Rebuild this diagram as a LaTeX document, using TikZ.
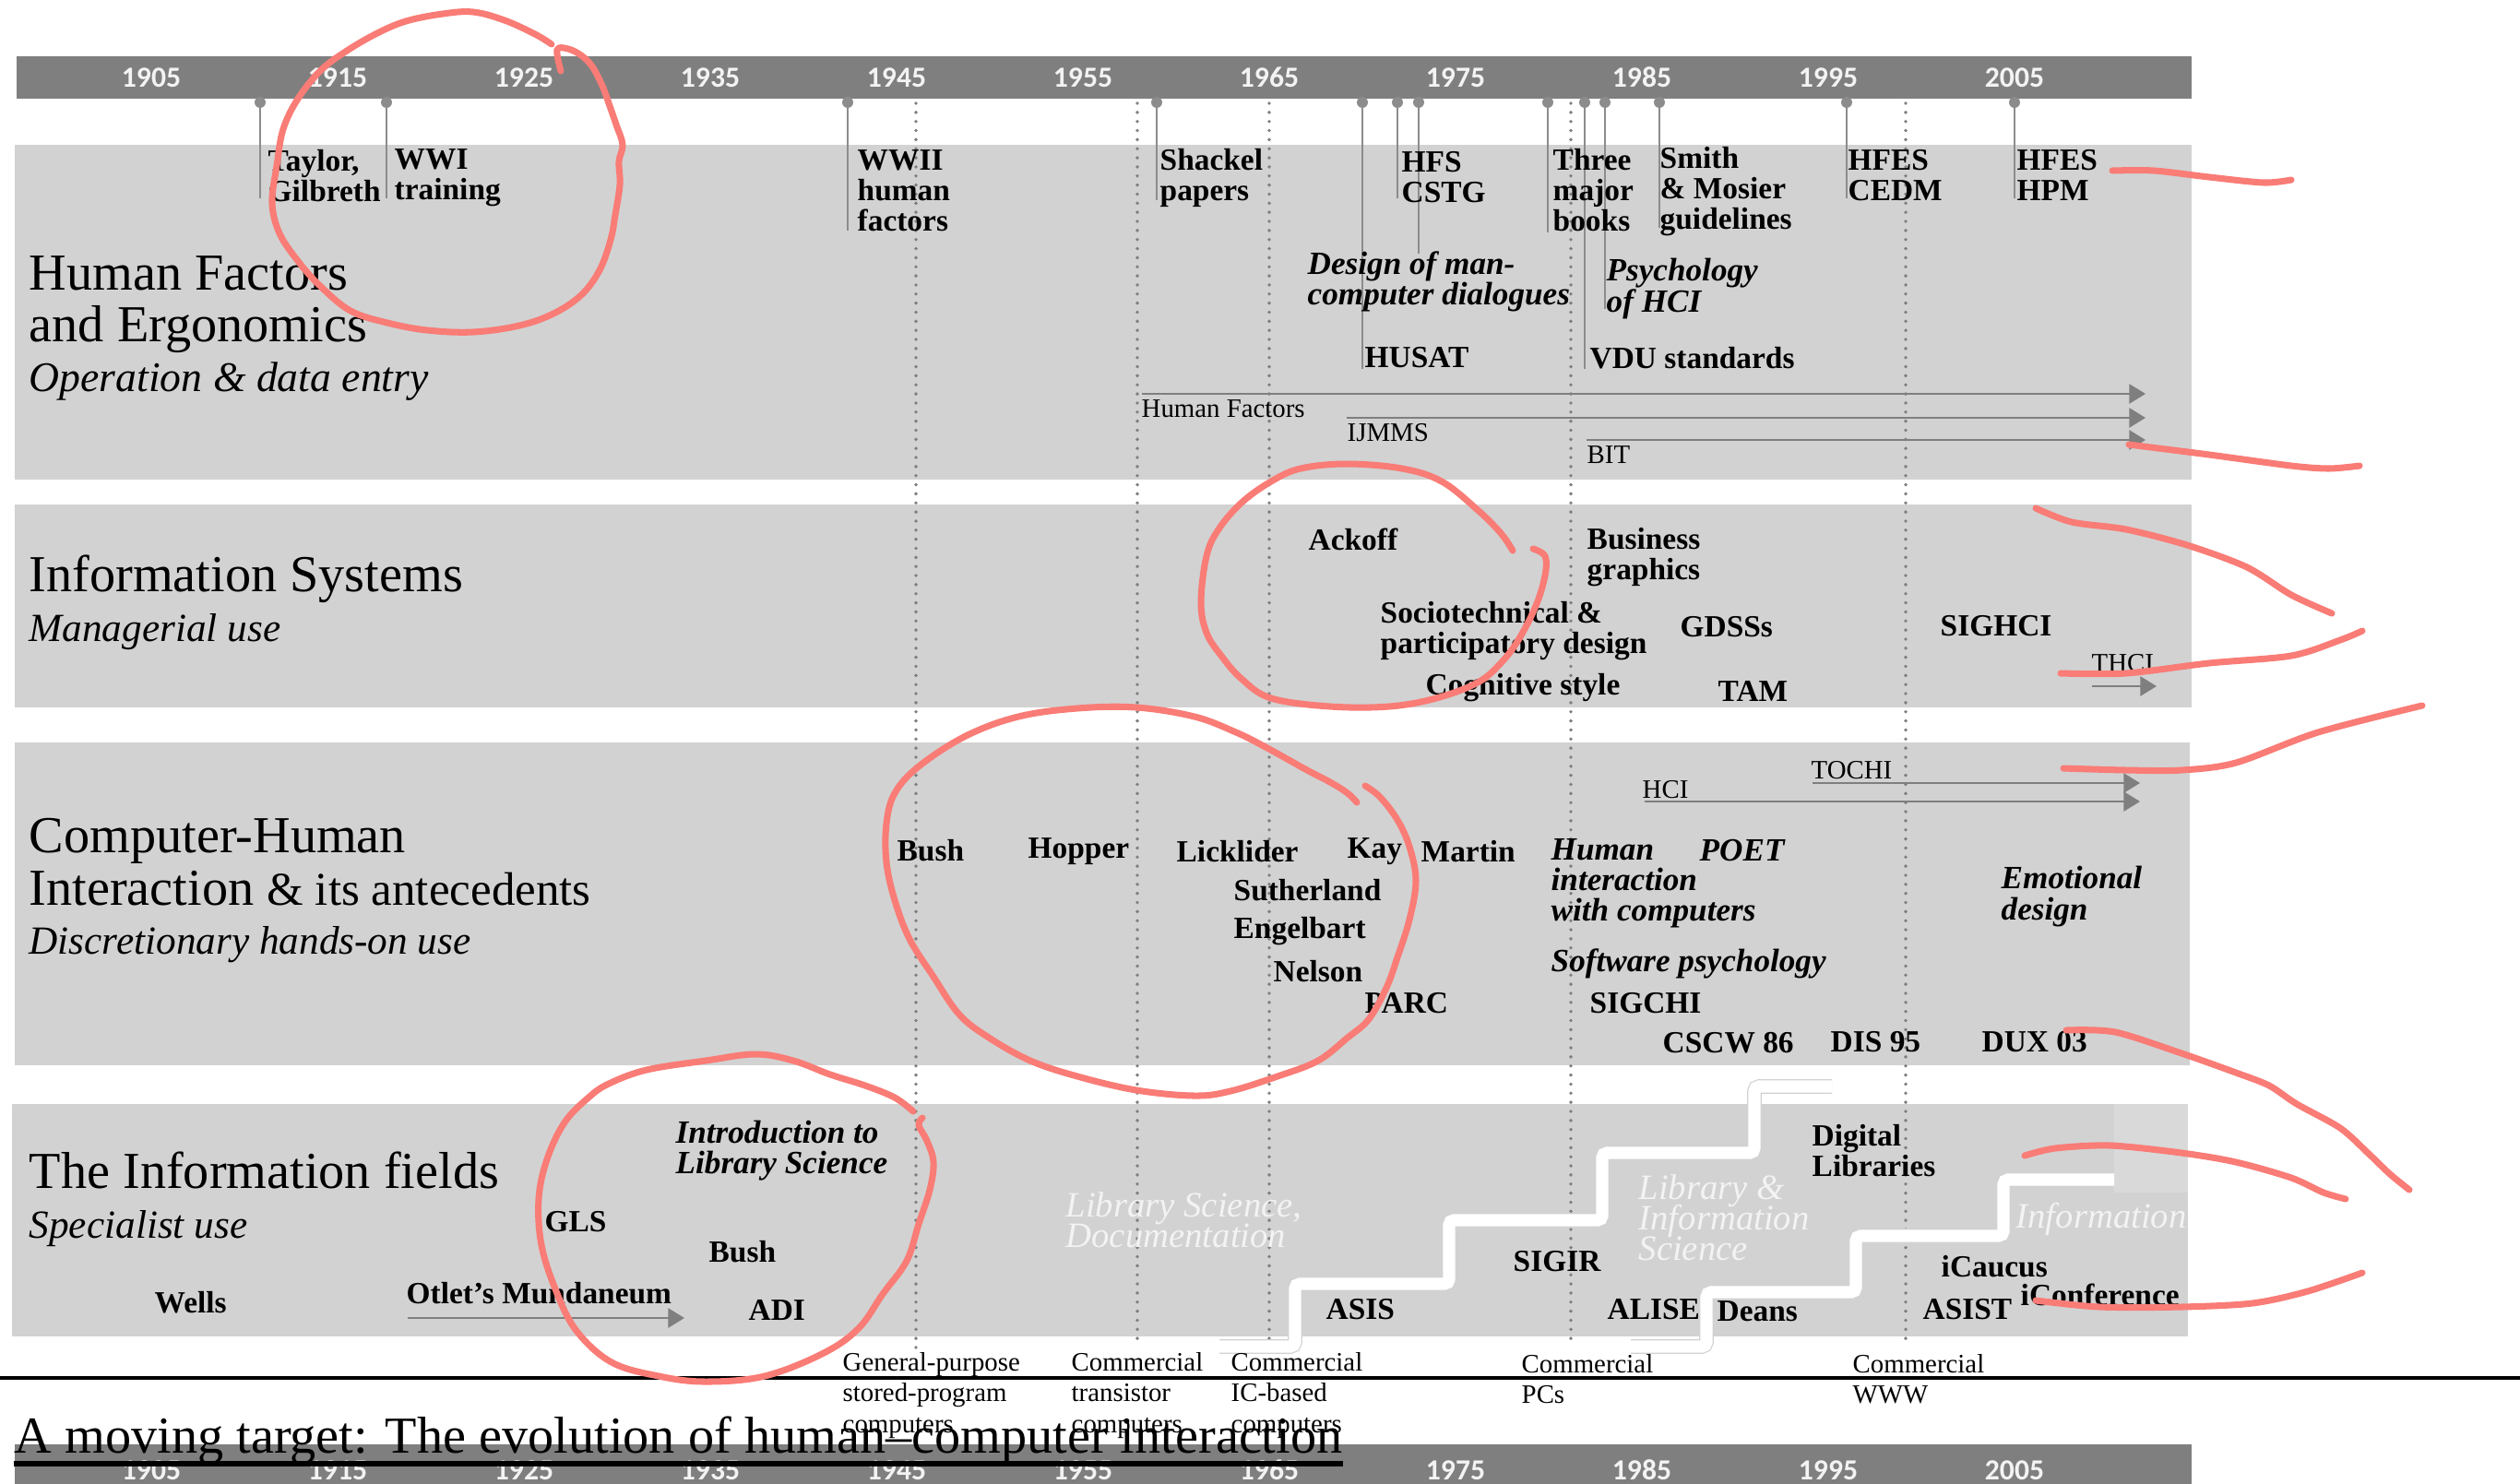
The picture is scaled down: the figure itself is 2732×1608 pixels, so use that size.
\documentclass[tikz,border=0pt]{standalone}
\usepackage{fontspec}
\setmainfont{Liberation Serif}
\newfontfamily\yearfont{Carlito}
\usetikzlibrary{arrows.meta}
\definecolor{bandgray}{RGB}{210,210,210}
\definecolor{bandlight}{RGB}{217,217,217}
\definecolor{bargray}{RGB}{127,127,127}
\definecolor{pingray}{RGB}{140,140,140}
\definecolor{redmark}{RGB}{249,124,118}
\definecolor{paletext}{RGB}{243,243,243}
\newcommand\tightlines{\lineskiplimit-5pt\relax}

\begin{document}
\begin{tikzpicture}[x=0.01cm,y=-0.01cm,
    yearlbl/.style={text=paletext,inner sep=0,font=\yearfont\bfseries\fontsize{9}{9}\selectfont},
    ev/.style={anchor=west,inner sep=0,align=left,font=\bfseries\fontsize{9.5}{9.4}\selectfont\tightlines},
    evit/.style={ev,font=\bfseries\itshape\fontsize{10}{9.4}\selectfont\tightlines},
    jnl/.style={anchor=west,inner sep=0,align=left,font=\fontsize{8.2}{9.4}\selectfont},
    era/.style={anchor=west,inner sep=0,align=left,text=paletext,font=\itshape\fontsize{11}{9.4}\selectfont\tightlines},
    ttl/.style={anchor=base west,inner sep=0,font=\fontsize{16}{16}\selectfont},
    subttl/.style={anchor=base west,inner sep=0,font=\itshape\fontsize{12.3}{13}\selectfont},
    pinhead/.style={circle,fill=pingray,inner sep=0,minimum size=3.4pt},
    stem/.style={draw=pingray,line width=0.45pt},
    eraline/.style={draw=bargray,line width=1.1pt,line cap=round,dash pattern=on 0pt off 2.8pt},
    tl/.style={draw=bargray,line width=0.6pt,-{Triangle[length=5pt,width=6pt]}},
    stair/.style={draw=white,line width=3.8pt,rounded corners=1.5pt,preaction={draw=gray!35,line width=4.5pt}},
    scribble/.style={draw=redmark,line width=2pt,line cap=round,line join=round}]
  \useasboundingbox (0,0) rectangle (2732,1608);

  % bands
  \fill[bandgray] (16,157) rectangle (2376,520);
  \fill[bandgray] (16,547) rectangle (2376,767);
  \fill[bandgray] (16,805) rectangle (2374,1155);
  \fill[bandgray] (13,1197) rectangle (2372,1449);
  \fill[bandlight] (2292,1197) rectangle (2372,1293);

  % eras
  \foreach \n/\dx/\dy in {gp/993/1462,ct/1233/1460,ic/1376/1452,pc/1703/1460,www/2066/1460}{
    \coordinate (era-\n-t) at (\dx,112);
    \coordinate (era-\n-b) at (\dx,\dy);
    \draw[eraline] (era-\n-t) -- (era-\n-b);
  }

  % staircases
  \draw[stair] (1322,1460) -- (1404,1460) -- (1404,1392) -- (1571,1392) -- (1571,1323)
    -- (1737,1323) -- (1737,1250) -- (1902,1250) -- (1902,1178) -- (1986,1178);
  \draw[stair] (1768,1460) -- (1850,1460) -- (1850,1401) -- (2012,1401) -- (2012,1340)
    -- (2172,1340) -- (2172,1279) -- (2292,1279);

  % top bar
  \fill[bargray] (18,61) rectangle (2376,107);
  \foreach \yr in {1905,1915,...,2005}{
    \node[yearlbl] (top\yr) at ({164+20.2*(\yr-1905)},84) {\yr};
  }
  \foreach \n/\px/\py in {taylor/282/215,wwi/419/215,wwii/919/250,shackel/1254/217,husat/1477/400,
      hfs/1515/215,dmcd/1538/275,three/1678/252,vdu/1718/400,psy/1740/335,smith/1799/247,
      cedm/2002/215,hpm/2184/215}{
    \coordinate (foot-\n) at (\px,\py);
    \draw[stem] (\px,111) -- (foot-\n);
    \node[pinhead] (pin-\n) at (\px,111) {};
  }

  % Human Factors and Ergonomics
  \node[ttl] (hf1) at (31,314) {Human Factors};
  \node[ttl] (hf2) at (31,370) {and Ergonomics};
  \node[subttl,font=\itshape\fontsize{13}{13}\selectfont] (hf3) at (31,424) {Operation \& data entry};
  \node[ev] (taylor) at (290,191) {Taylor,\\Gilbreth};
  \node[ev] (wwi) at (427,193) {WWI\\training};
  \node[ev] (wwii) at (929,207) {WWII\\human\\factors};
  \node[ev] (shackel) at (1257,193) {Shackel\\papers};
  \node[ev] (hfs) at (1519,192) {HFS\\CSTG};
  \node[ev] (three) at (1683,206) {Three\\major\\books};
  \node[ev] (smith) at (1799,208) {Smith\\\& Mosier\\guidelines};
  \node[ev] (cedm) at (2003,190) {HFES\\CEDM};
  \node[ev] (hpm) at (2186,190) {HFES\\HPM};
  \node[evit] (dmcd) at (1417,305) {Design of man-\\computer dialogues};
  \node[evit] (psy) at (1741,313) {Psychology\\of HCI};
  \node[ev] (husat) at (1479,388) {HUSAT};
  \node[ev] (vdu) at (1723,388) {VDU standards};
  \coordinate (hfj-a) at (1238,427); \coordinate (hfj-b) at (2326,427);
  \coordinate (ijmms-a) at (1460,453); \coordinate (ijmms-b) at (2326,453);
  \coordinate (bit-a) at (1720,477); \coordinate (bit-b) at (2326,477);
  \draw[tl] (hfj-a) -- (hfj-b);
  \draw[tl] (ijmms-a) -- (ijmms-b);
  \draw[tl] (bit-a) -- (bit-b);
  \node[jnl] (hfj) at (1237,443) {Human Factors};
  \node[jnl] (ijmms) at (1460,469) {IJMMS};
  \node[jnl] (bit) at (1720,493) {BIT};

  % Information Systems
  \node[ttl] (is1) at (31,641) {Information Systems};
  \node[subttl] (is2) at (31,695) {Managerial use};
  \node[ev] (ackoff) at (1418,585) {Ackoff};
  \node[ev] (socio) at (1496,684) {Sociotechnical \&\\participatory design};
  \node[ev] (cogn) at (1545,746) {Cognitive style};
  \node[ev] (busi) at (1720,604) {Business\\graphics};
  \node[ev] (gdss) at (1821,680) {GDSSs};
  \node[ev] (tam) at (1862,749) {TAM};
  \node[ev] (sighci) at (2103,679) {SIGHCI};
  \node[jnl] (thci) at (2267,719) {THCI};
  \coordinate (thci-a) at (2268,744); \coordinate (thci-b) at (2338,744);
  \draw[tl] (thci-a) -- (thci-b);

  % Computer-Human Interaction
  \node[ttl] (chi1) at (31,924) {Computer-Human};
  \node[ttl] (chi2) at (31,981) {Interaction {\fontsize{14.5}{14.5}\selectfont\& its antecedents}};
  \node[subttl] (chi3) at (31,1034) {Discretionary hands-on use};
  \node[ev] (bush) at (972,922) {Bush};
  \node[ev] (hopper) at (1114,923) {Hopper};
  \node[ev] (lick) at (1275,923) {Licklider};
  \node[ev] (kay) at (1460,923) {Kay};
  \node[ev] (martin) at (1540,923) {Martin};
  \node[ev] (suth) at (1337,965) {Sutherland};
  \node[ev] (engel) at (1337,1010) {Engelbart};
  \node[ev] (nelson) at (1380,1053) {Nelson};
  \node[ev] (parc) at (1479,1088) {PARC};
  \node[evit] (humint) at (1681,958) {Human\\interaction\\with computers};
  \node[evit] (poet) at (1842,922) {POET};
  \node[evit] (softpsy) at (1681,1045) {Software psychology};
  \node[ev] (sigchi) at (1723,1088) {SIGCHI};
  \node[ev] (cscw) at (1802,1131) {CSCW 86};
  \node[ev] (dis) at (1984,1130) {DIS 95};
  \node[ev] (dux) at (2148,1130) {DUX 03};
  \node[evit] (emo) at (2169,972) {Emotional\\design};
  \coordinate (tochi-a) at (1965,849); \coordinate (tochi-b) at (2320,849);
  \coordinate (hci-a) at (1783,869); \coordinate (hci-b) at (2320,869);
  \draw[tl] (tochi-a) -- (tochi-b);
  \draw[tl] (hci-a) -- (hci-b);
  \node[jnl] (tochi) at (1963,835) {TOCHI};
  \node[jnl] (hci) at (1780,856) {HCI};

  % The Information fields
  \node[ttl] (inf1) at (31,1288) {The Information fields};
  \node[subttl] (inf2) at (31,1342) {Specialist use};
  \node[evit] (intro) at (732,1248) {Introduction to\\Library Science};
  \node[ev] (gls) at (590,1325) {GLS};
  \node[ev] (bush2) at (768,1357) {Bush};
  \node[ev] (wells) at (167,1412) {Wells};
  \node[ev] (otlet) at (440,1402) {Otlet's Mundaneum};
  \coordinate (otlet-a) at (442,1429); \coordinate (otlet-b) at (742,1429);
  \draw[tl] (otlet-a) -- (otlet-b);
  \node[ev] (adi) at (811,1420) {ADI};
  \node[era] (libsci) at (1155,1323) {Library Science,\\Documentation};
  \node[ev] (sigir) at (1640,1368) {SIGIR};
  \node[ev] (asis) at (1437,1420) {ASIS};
  \node[ev] (alise) at (1742,1420) {ALISE};
  \node[ev] (deans) at (1861,1422) {Deans};
  \node[era] (lis) at (1776,1320) {Library \&\\Information\\Science};
  \node[ev] (diglib) at (1964,1248) {Digital\\Libraries};
  \node[era] (info) at (2185,1322) {Information};
  \node[ev] (icaucus) at (2104,1373) {iCaucus};
  \node[ev] (asist) at (2084,1420) {ASIST};
  \node[ev] (iconf) at (2190,1404) {iConference};

  % computing eras
  \node[jnl] (gp) at (913,1513) {General-purpose\\stored-program\\computers};
  \node[jnl] (ct) at (1161,1513) {Commercial\\transistor\\computers};
  \node[jnl] (ic) at (1334,1513) {Commercial\\IC-based\\computers};
  \node[jnl] (pc) at (1649,1495) {Commercial\\PCs};
  \node[jnl] (www) at (2008,1495) {Commercial\\WWW};

  \coordinate (rule-l) at (0,1494); \coordinate (rule-r) at (2732,1494);
  \draw[line width=0.9pt] (rule-l) -- (rule-r);

  % bottom bar and caption
  \fill[bargray] (16,1566) rectangle (2376,1612);
  \foreach \yr in {1905,1915,...,2005}{
    \node[yearlbl] (bot\yr) at ({164+20.2*(\yr-1905)},1594) {\yr};
  }
  \node[ttl] (title) at (15,1575) {A moving target: The evolution of human--computer interaction};
  \draw[line width=1.7pt] ([yshift=-3.3pt]title.base west) -- ([yshift=-3.3pt]title.base east);

  % marks
  \draw[scribble] plot[smooth,tension=0.6] coordinates {(608,77) (604,54) (616,53) (630,60) (642,72)
    (653,93) (660,112) (668,135) (675,157) (671,175) (672,200) (667,233) (662,260) (650,293)
    (630,320) (600,340) (563,353) (513,360) (463,358) (420,350) (380,337) (347,310) (323,283)
    (303,253) (295,220) (300,180) (307,140) (323,107) (347,77) (373,57) (407,37) (440,23)
    (480,15) (513,13) (547,22) (580,37) (598,48)};
  \draw[scribble] plot[smooth,tension=0.6] coordinates {(1640,597) (1627,578) (1602,553) (1563,522)
    (1520,508) (1460,503) (1410,508) (1378,522) (1346,545) (1321,574) (1308,603) (1302,653)
    (1308,686) (1324,711) (1346,736) (1378,757) (1442,766) (1506,766) (1557,757) (1602,740)
    (1627,719) (1646,694) (1665,657) (1675,624) (1675,603) (1662,595)};
  \draw[scribble] plot[smooth,tension=0.6] coordinates {(1471,870) (1461,860) (1442,848) (1417,835)
    (1372,810) (1340,794) (1295,777) (1232,767) (1168,768) (1104,777) (1047,798) (996,831)
    (970,860) (961,893) (961,935) (970,976) (986,1018) (1012,1059) (1040,1100) (1072,1125)
    (1117,1150) (1168,1167) (1232,1182) (1295,1188) (1334,1183) (1385,1167) (1429,1150)
    (1461,1125) (1484,1105) (1503,1071) (1515,1038) (1528,997) (1535,955) (1528,918)
    (1515,889) (1496,864) (1480,852)};
  \draw[scribble] plot[smooth,tension=0.6] coordinates {(990,1205) (970,1190) (938,1177) (900,1165)
    (860,1150) (819,1143) (765,1150) (701,1160) (660,1175) (638,1190) (612,1217) (593,1257)
    (584,1300) (587,1350) (603,1400) (625,1443) (663,1477) (714,1492) (765,1498) (829,1492)
    (893,1467) (931,1440) (957,1403) (983,1367) (996,1327) (1008,1290) (1012,1260) (1005,1237)
    (996,1220) (1000,1212)};
  \draw[scribble] plot[smooth] coordinates {(2290,185) (2335,185) (2395,192) (2454,198) (2484,195)};
  \draw[scribble] plot[smooth] coordinates {(2308,482) (2395,493) (2484,505) (2525,508) (2558,505)};
  \draw[scribble] plot[smooth] coordinates {(2207,551) (2246,566) (2305,574) (2371,591) (2436,615)
    (2484,645) (2528,665)};
  \draw[scribble] plot[smooth] coordinates {(2234,730) (2305,730) (2395,719) (2484,711) (2537,694)
    (2561,684)};
  \draw[scribble] plot[smooth] coordinates {(2237,833) (2305,835) (2365,835) (2424,827) (2513,794)
    (2626,765)};
  \draw[scribble] plot[smooth] coordinates {(2240,1117) (2293,1119) (2365,1142) (2424,1163)
    (2460,1177) (2490,1197) (2537,1223) (2567,1250) (2591,1273) (2612,1290)};
  \draw[scribble] plot[smooth] coordinates {(2195,1253) (2228,1245) (2288,1242) (2365,1250)
    (2424,1260) (2484,1277) (2519,1293) (2543,1300)};
  \draw[scribble] plot[smooth] coordinates {(2207,1410) (2276,1417) (2365,1417) (2442,1413)
    (2502,1400) (2561,1380)};
\end{tikzpicture}
\end{document}
